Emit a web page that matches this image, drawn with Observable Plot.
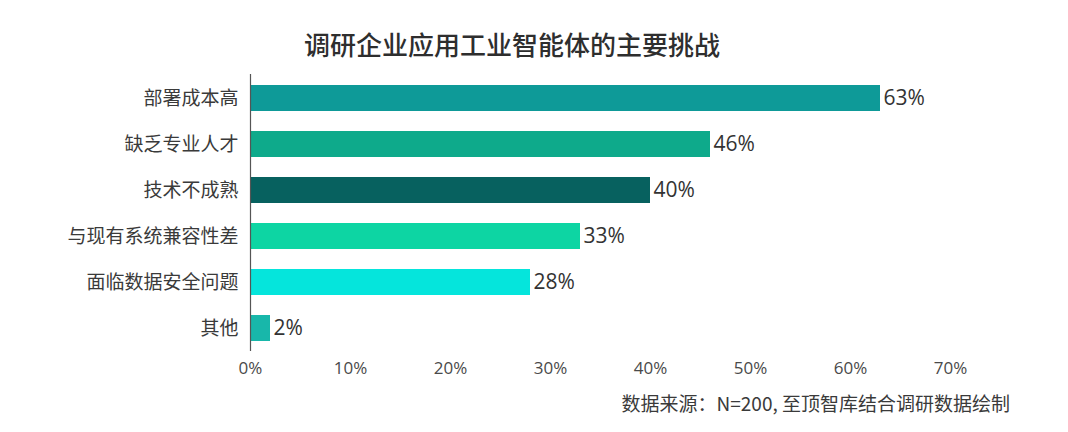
<!DOCTYPE html>
<html>
<head>
<meta charset="utf-8">
<script src="https://cdn.jsdelivr.net/npm/d3@7"></script>
<script src="https://cdn.jsdelivr.net/npm/@observablehq/plot@0.6"></script>
<style>
  html, body { margin: 0; padding: 0; background: #fff; }
  body { width: 1068px; height: 432px; overflow: hidden; font-family: "Noto Sans CJK SC", "Noto Sans", sans-serif; }
  #title { width: 1024px; height: 64px; text-align: center; font-size: 26px; font-weight: 500; color: #2e2e2e; }
  #title span { display: inline-block; line-height: 26px; margin-top: 31px; vertical-align: top; }
  #caption { width: 1068px; box-sizing: border-box; padding-right: 58px; text-align: right; font-size: 19px; color: #3a3a3a; margin-top: 8px; line-height: 22px; }
  svg { display: block; }
</style>
</head>
<body>
<div id="title"><span>调研企业应用工业智能体的主要挑战</span></div>
<div id="chart"></div>
<div id="caption">数据来源：N=200, 至顶智库结合调研数据绘制</div>
<script>
const categories = ["部署成本高", "缺乏专业人才", "技术不成熟", "与现有系统兼容性差", "面临数据安全问题", "其他"];
const values = [63, 46, 40, 33, 28, 2];
const palette = ["#0e9a98", "#0eaa8b", "#07615f", "#0dd5a3", "#05e5dc", "#18b7aa"];
const xTicks = [0, 10, 20, 30, 40, 50, 60, 70];

const data = categories.map((c, i) => ({category: c, value: values[i]}));

const chart = Plot.plot({
  width: 1068,
  height: 320,
  marginLeft: 250,
  marginRight: 118,
  marginTop: 10,
  marginBottom: 33,
  style: {fontFamily: '"Noto Sans CJK SC", "Noto Sans", sans-serif', background: "#fff"},
  x: {domain: [0, 70], ticks: xTicks, tickFormat: d => d + "%", label: null},
  y: {domain: categories, paddingInner: 0.44, paddingOuter: 0.2, label: null},
  color: {domain: categories, range: palette},
  marks: [
    Plot.barX(data, {x: "value", y: "category", fill: "category"}),
    Plot.ruleX([0], {stroke: "#555", strokeWidth: 1.2}),
    Plot.text(data, {x: "value", y: "category", text: d => d.value + "%", dx: 3, textAnchor: "start", fontSize: 21, fill: "#333", fontFamily: '"Open Sans", "Noto Sans", sans-serif'}),
    Plot.axisX({ticks: xTicks, tickFormat: d => d + "%", tickSize: 0, tickPadding: 10, fontSize: 17, color: "#4a4a4a", label: null, fontFamily: '"Open Sans", "Noto Sans", sans-serif'}),
    Plot.axisY({tickSize: 0, tickPadding: 12, fontSize: 19, color: "#3a3a3a", label: null})
  ]
});
document.getElementById("chart").appendChild(chart);
</script>
</body>
</html>
